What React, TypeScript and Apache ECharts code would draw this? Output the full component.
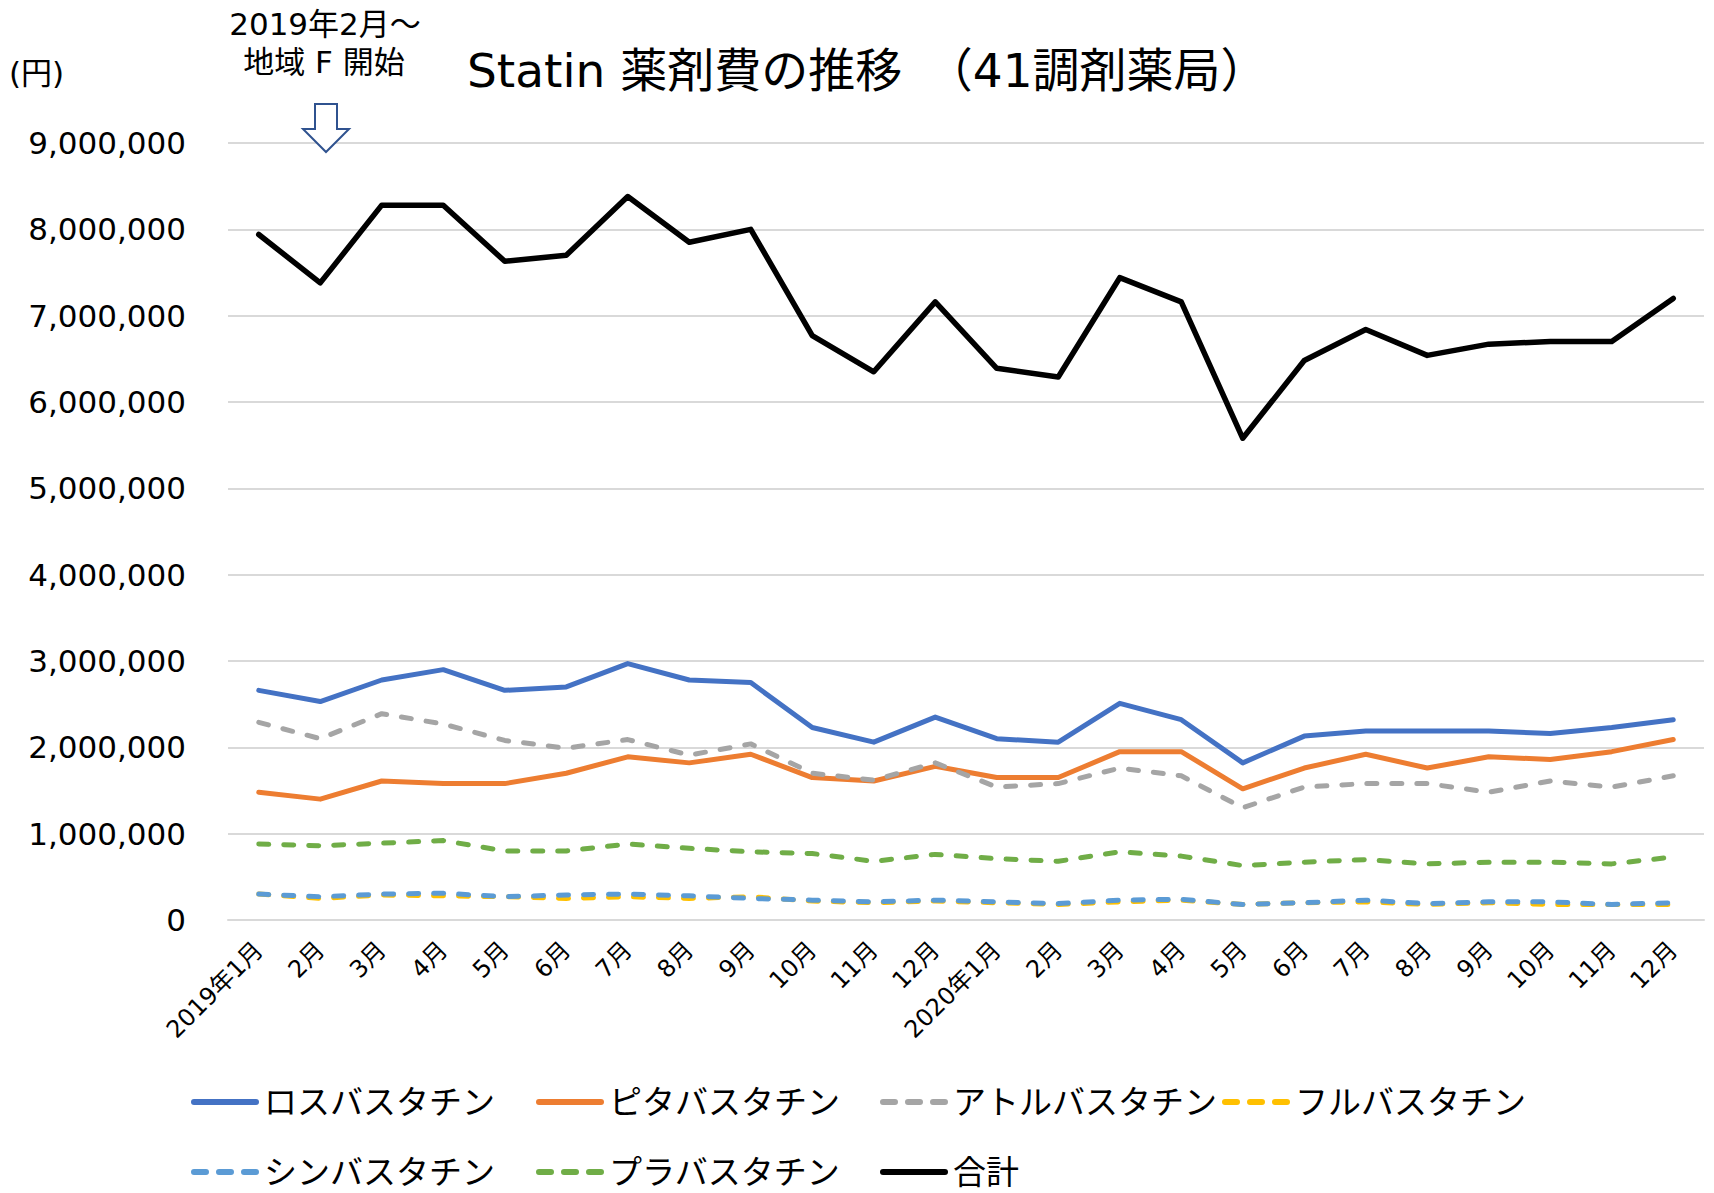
import React, { useEffect, useRef } from 'react';
import * as echarts from 'echarts';

const categories = [
  '2019年1月', '2019年2月', '2019年3月', '2019年4月', '2019年5月', '2019年6月',
  '2019年7月', '2019年8月', '2019年9月', '2019年10月', '2019年11月', '2019年12月',
  '2020年1月', '2020年2月', '2020年3月', '2020年4月', '2020年5月', '2020年6月',
  '2020年7月', '2020年8月', '2020年9月', '2020年10月', '2020年11月', '2020年12月',
];
const tickLabels = [
  '2019年1月', '2月', '3月', '4月', '5月', '6月', '7月', '8月', '9月', '10月', '11月', '12月',
  '2020年1月', '2月', '3月', '4月', '5月', '6月', '7月', '8月', '9月', '10月', '11月', '12月',
];

const rosuvastatin = [2660000, 2530000, 2780000, 2900000, 2660000, 2700000, 2970000, 2780000, 2750000, 2230000, 2060000, 2350000,
  2100000, 2060000, 2510000, 2320000, 1820000, 2130000, 2190000, 2190000, 2190000, 2160000, 2230000, 2320000];
const pitavastatin = [1480000, 1400000, 1610000, 1580000, 1580000, 1700000, 1890000, 1820000, 1920000, 1650000, 1610000, 1780000,
  1650000, 1650000, 1950000, 1950000, 1520000, 1760000, 1920000, 1760000, 1890000, 1860000, 1950000, 2090000];
const atorvastatin = [2290000, 2100000, 2390000, 2270000, 2080000, 1990000, 2090000, 1910000, 2040000, 1700000, 1620000, 1820000,
  1540000, 1580000, 1760000, 1670000, 1300000, 1540000, 1580000, 1580000, 1480000, 1610000, 1540000, 1670000];
const fluvastatin = [300000, 250000, 290000, 280000, 270000, 250000, 270000, 250000, 270000, 220000, 200000, 220000,
  200000, 180000, 210000, 230000, 180000, 200000, 210000, 180000, 200000, 180000, 180000, 180000];
const simvastatin = [300000, 270000, 300000, 310000, 270000, 290000, 300000, 280000, 250000, 230000, 210000, 230000,
  210000, 190000, 230000, 240000, 180000, 200000, 230000, 190000, 210000, 210000, 180000, 200000];
const pravastatin = [880000, 860000, 890000, 920000, 800000, 800000, 880000, 830000, 790000, 770000, 680000, 760000,
  710000, 680000, 790000, 740000, 630000, 670000, 700000, 650000, 670000, 670000, 650000, 730000];
const total = [7940000, 7380000, 8280000, 8280000, 7630000, 7700000, 8380000, 7850000, 8000000, 6770000, 6350000, 7160000,
  6390000, 6290000, 7440000, 7160000, 5580000, 6480000, 6840000, 6540000, 6670000, 6700000, 6700000, 7200000];

const seriesNames = ['ロスバスタチン', 'ピタバスタチン', 'アトルバスタチン', 'フルバスタチン', 'シンバスタチン', 'プラバスタチン', '合計'];
const seriesData = [rosuvastatin, pitavastatin, atorvastatin, fluvastatin, simvastatin, pravastatin, total];
const seriesColors = ['#4472C4', '#ED7D31', '#A5A5A5', '#FFC000', '#5B9BD5', '#70AD47', '#000000'];
const seriesDashed = [false, false, true, true, true, true, false];

const yTicks = [0, 1000000, 2000000, 3000000, 4000000, 5000000, 6000000, 7000000, 8000000, 9000000];

const FONT = '"DejaVu Sans", "Noto Sans CJK JP", sans-serif';

const SOLID_ICON = 'path://M3,0H65A3,3,0,0,1,65,6H3A3,3,0,0,1,3,0Z';
const DASH_ICON = 'path://M3,0H15A3,3,0,0,1,15,6H3A3,3,0,0,1,3,0ZM28,0H40A3,3,0,0,1,40,6H28A3,3,0,0,1,28,0ZM53,0H65A3,3,0,0,1,65,6H53A3,3,0,0,1,53,0Z';

export default function App() {
  const ref = useRef<HTMLDivElement>(null);
  useEffect(() => {
    const chart = echarts.init(ref.current!, null, { renderer: 'svg' });
    const legendCols = [191, 536, 880, 1222];
    const legendRows = [1082, 1152];
    const legends = seriesNames.map((n, i) => ({
      data: [{ name: n, icon: seriesDashed[i] ? DASH_ICON : SOLID_ICON }],
      left: legendCols[i % 4],
      top: legendRows[Math.floor(i / 4)],
      itemWidth: 68,
      itemHeight: 6,
      padding: 0,
      textStyle: { fontSize: 33, color: '#000', fontFamily: FONT, lineHeight: 40 },
    }));
    chart.setOption({
      animation: false,
      backgroundColor: '#ffffff',
      title: {
        text: 'Statin 薬剤費の推移　（41調剤薬局）',
        left: 467,
        top: 44,
        padding: 0,
        textStyle: { fontSize: 47, fontWeight: 'normal', color: '#000', fontFamily: FONT, lineHeight: 52 },
      },
      legend: legends,
      grid: { left: 228, right: 10, top: 143, bottom: 273, containLabel: false },
      xAxis: {
        type: 'category',
        data: categories,
        boundaryGap: true,
        axisLine: { show: true, lineStyle: { color: '#D9D9D9', width: 2 } },
        axisTick: { show: false },
        axisLabel: {
          interval: 0,
          rotate: 45,
          margin: 26,
          fontSize: 24,
          color: '#000',
          fontFamily: FONT,
          formatter: (_v: string, idx: number) => tickLabels[idx],
        },
      },
      yAxis: {
        type: 'value',
        min: yTicks[0],
        max: yTicks[yTicks.length - 1],
        interval: 1000000,
        axisLine: { show: false },
        axisTick: { show: false },
        splitLine: { lineStyle: { color: '#D9D9D9', width: 2 } },
        axisLabel: {
          margin: 42,
          fontSize: 31,
          color: '#000',
          fontFamily: FONT,
          formatter: (v: number) => v.toLocaleString('en-US'),
        },
      },
      graphic: [
        {
          type: 'text', left: 9, top: 57,
          style: { text: '(円)', fill: '#000', font: '31px ' + FONT },
        },
        {
          type: 'text', x: 325, y: 24,
          style: { text: '2019年2月～', fill: '#000', font: '31px ' + FONT, textAlign: 'center', textVerticalAlign: 'middle' },
        },
        {
          type: 'text', x: 324, y: 62,
          style: { text: '地域 F 開始', fill: '#000', font: '31px ' + FONT, textAlign: 'center', textVerticalAlign: 'middle' },
        },
        {
          type: 'polygon',
          shape: { points: [[315, 104], [337, 104], [337, 129], [349, 129], [326, 152], [303, 129], [315, 129]] },
          style: { fill: '#ffffff', stroke: '#2F528F', lineWidth: 2 },
          z: 10,
        },
      ],
      series: seriesNames.map((n, i) => ({
        name: n,
        type: 'line',
        data: seriesData[i],
        symbol: 'none',
        smooth: false,
        color: seriesColors[i],
        itemStyle: { color: seriesColors[i] },
        lineStyle: {
          color: seriesColors[i],
          width: i === 6 ? 5.5 : 5,
          type: seriesDashed[i] ? [10, 15] : 'solid',
          cap: 'round',
          join: 'round',
        },
        z: i + 2,
      })),
    });
    return () => chart.dispose();
  }, []);
  return <div ref={ref} style={{ position: 'absolute', left: 0, top: 0, width: 1714, height: 1193 }} />;
}
